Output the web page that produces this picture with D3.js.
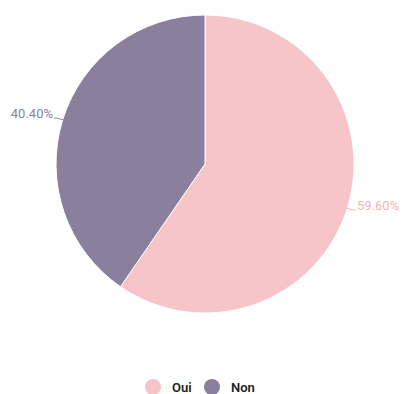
<!doctype html>
<html>
  <head>
    <meta charset="utf-8">
    <title>Oui / Non</title>
    <style>
      body { margin: 0; background: #fff; }
      svg { display: block; font-family: Roboto, "Noto Sans", sans-serif; }
    </style>
  </head>
  <body>
  <script src="https://d3js.org/d3.v7.min.js"></script>
  <script>
    var categories = ["Oui", "Non"];
    var values = [59.6, 40.4];
    var colors = ["#f7c4c8", "#8a7f9d"];
    var labelColors = ["#f4b3ba", "#8a7f9d"];

    var width = 405, height = 394;
    var cx = 205, cy = 164, radius = 149;

    var svg = d3.select("body").append("svg")
      .attr("width", width)
      .attr("height", height);

    var pie = d3.pie().sort(null).value(function(d) { return d; });
    var arcs = pie(values);

    var arc = d3.arc().innerRadius(0).outerRadius(radius);

    var g = svg.append("g").attr("transform", "translate(" + cx + "," + cy + ")");

    g.selectAll("path.slice")
      .data(arcs)
      .enter().append("path")
      .attr("class", "slice")
      .attr("d", arc)
      .attr("fill", function(d, i) { return colors[i]; })
      .attr("stroke", "#fff")
      .attr("stroke-width", 1);

    // leader lines and labels
    arcs.forEach(function(d, i) {
      var a = (d.startAngle + d.endAngle) / 2;
      var sx = Math.sin(a), sy = -Math.cos(a);
      var p0 = [sx * (radius - 2), sy * (radius - 2)];
      var p1 = [sx * (radius + 6), sy * (radius + 6)];
      var right = sx > 0;
      var p2 = [p1[0] + (right ? 3 : -3), p1[1]];
      g.append("path")
        .attr("d", d3.line().curve(d3.curveBasis)([p0, p1, p2]))
        .attr("fill", "none")
        .attr("stroke", labelColors[i])
        .attr("stroke-width", 1);
      g.append("text")
        .attr("x", p2[0] + (right ? 1 : -1))
        .attr("y", p2[1])
        .attr("text-anchor", right ? "start" : "end")
        .attr("font-size", 13)
        .attr("fill", labelColors[i])
        .text(d3.format(".2f")(values[i]) + "%");
    });

    // legend
    var legend = svg.append("g").attr("transform", "translate(0,387)");
    var lx = [153, 212];
    categories.forEach(function(c, i) {
      legend.append("circle")
        .attr("cx", lx[i])
        .attr("cy", 0)
        .attr("r", 8)
        .attr("fill", colors[i]);
      legend.append("text")
        .attr("x", lx[i] + 19)
        .attr("y", 4.5)
        .attr("font-size", 13)
        .attr("font-weight", 600)
        .attr("fill", "#222")
        .text(c);
    });
  </script>
  </body>
</html>
